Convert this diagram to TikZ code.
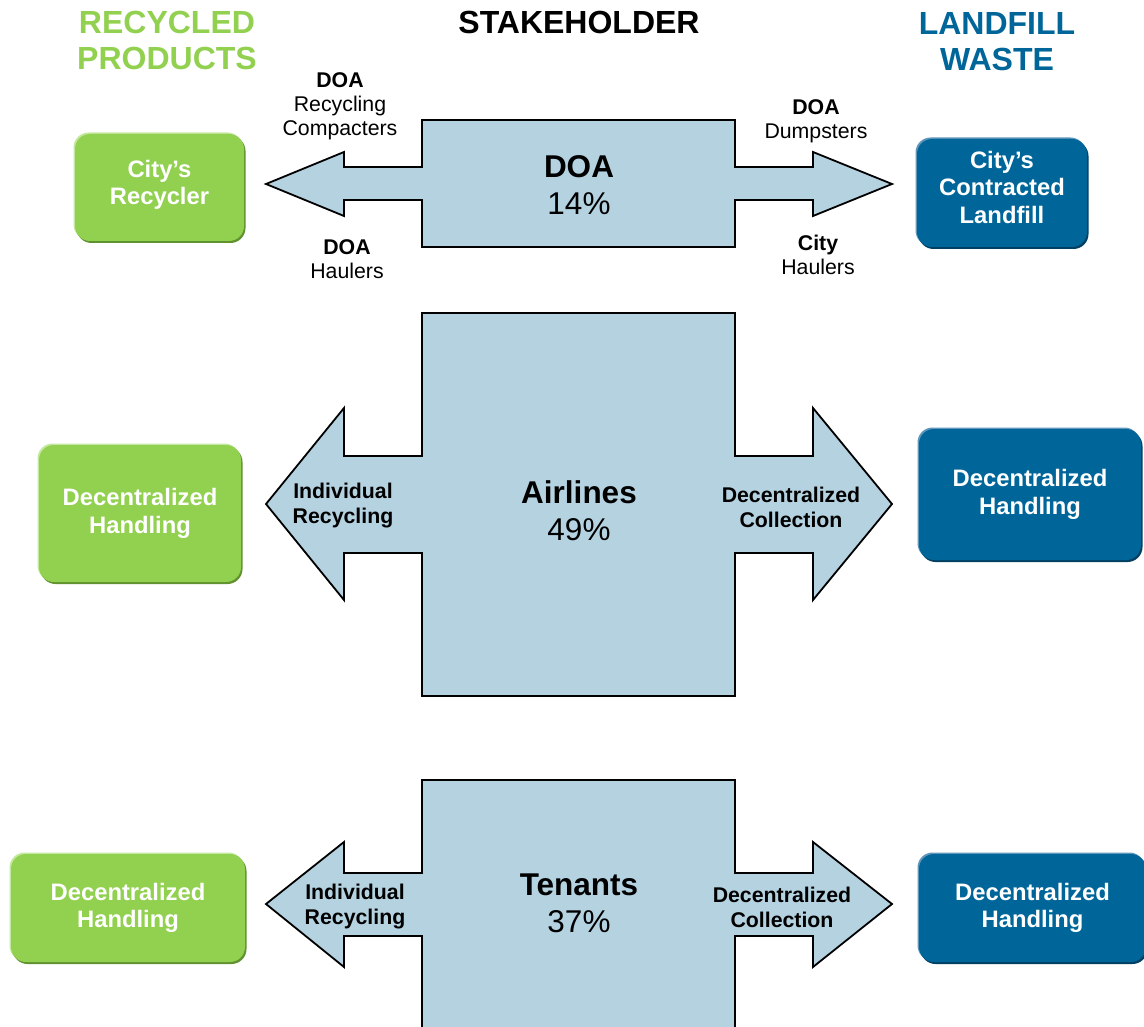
\documentclass[tikz,border=0pt]{standalone}
\usepackage{fontspec}
\setmainfont{Liberation Sans}
\usetikzlibrary{shadows}
\definecolor{recyclegreen}{RGB}{146,208,80}
\definecolor{recyclegreendark}{RGB}{96,146,48}
\definecolor{recyclegreenlight}{RGB}{196,232,160}
\definecolor{landfillblue}{RGB}{0,102,153}
\definecolor{landfillbluedark}{RGB}{0,64,98}
\definecolor{landfillbluelight}{RGB}{96,150,186}
\definecolor{stakeblue}{RGB}{181,210,225}
\tikzset{
  stake/.style={draw=black, fill=stakeblue, line width=1.8pt, line join=miter},
  heading/.style={font=\bfseries\fontsize{32}{36}\selectfont, align=center},
  flowlabel/.style={font=\fontsize{21.3}{24}\selectfont, align=center},
  arrowlabel/.style={font=\bfseries\fontsize{21.3}{25}\selectfont, align=center},
  share/.style={font=\fontsize{31.5}{37}\selectfont, align=center},
  outbox/.style={rounded corners=15pt, inner sep=0pt, align=center, text=white,
    font=\bfseries\fontsize{23.8}{27.5}\selectfont},
  greenbox/.style={outbox, fill=recyclegreen,
    general shadow={fill=recyclegreenlight, shadow xshift=-1.5pt, shadow yshift=1.5pt},
    general shadow={fill=recyclegreendark, shadow xshift=1.5pt, shadow yshift=-2pt}},
  bluebox/.style={outbox, fill=landfillblue,
    general shadow={fill=landfillbluelight, shadow xshift=-1.5pt, shadow yshift=1.5pt},
    general shadow={fill=landfillbluedark, shadow xshift=1.5pt, shadow yshift=-2pt}}
}
\begin{document}
\begin{tikzpicture}[x=1pt, y=-1pt]
  \useasboundingbox (0,0) rectangle (1144,1027);

  % column headings
  \node[heading, text=recyclegreen] (hrecycled) at (167,40) {RECYCLED\\PRODUCTS};
  \node[heading] (hstake) at (579,22) {STAKEHOLDER};
  \node[heading, text=landfillblue] (hlandfill) at (997,42) {LANDFILL\\WASTE};

  % DOA
  \draw[stake] (422,120) -- (735,120) -- (735,167) -- (813,167) -- (813,152)
    -- (892,184) -- (813,216) -- (813,200) -- (735,200) -- (735,247)
    -- (422,247) -- (422,200) -- (344,200) -- (344,216) -- (266,184)
    -- (344,152) -- (344,167) -- (422,167) -- cycle;
  \node[share] (doa) at (579,185) {\textbf{DOA}\\14\%};
  \node[flowlabel] (doacompact) at (340,106) {\textbf{DOA}\\Recycling\\Compacters};
  \node[flowlabel] (doahaul) at (347,259) {\textbf{DOA}\\Haulers};
  \node[flowlabel] (doadump) at (816,121) {\textbf{DOA}\\Dumpsters};
  \node[flowlabel] (cityhaul) at (818,255) {\textbf{City}\\Haulers};
  \node[greenbox, minimum width=169pt, minimum height=107pt] (recycler)
    at (159.5,187.5) {City’s\\Recycler\\[-17.5pt]};
  \node[bluebox, minimum width=170pt, minimum height=108pt] (landfill)
    at (1002,193) {City’s\\Contracted\\Landfill\\[-15.5pt]};

  % Airlines
  \draw[stake] (422,313) -- (735,313) -- (735,456) -- (813,456) -- (813,408)
    -- (892,504) -- (813,600) -- (813,553) -- (735,553) -- (735,696)
    -- (422,696) -- (422,553) -- (344,553) -- (344,600) -- (266,504)
    -- (344,408) -- (344,456) -- (422,456) -- cycle;
  \node[share] (airlines) at (579,511) {\textbf{Airlines}\\49\%};
  \node[arrowlabel] (airrecyc) at (343,505.5) {Individual\\Recycling};
  \node[arrowlabel] (aircollect) at (791,507.5) {Decentralized\\Collection};
  \node[greenbox, minimum width=202pt, minimum height=137pt] (airgreen)
    at (140,513.5) {Decentralized\\Handling};
  \node[bluebox, minimum width=222pt, minimum height=131pt] (airblue)
    at (1030,494.5) {Decentralized\\Handling};

  % Tenants
  \draw[stake] (422,780) -- (735,780) -- (735,873) -- (813,873) -- (813,842)
    -- (892,904) -- (813,967) -- (813,936) -- (735,936) -- (735,1034)
    -- (422,1034) -- (422,936) -- (344,936) -- (344,967) -- (266,904)
    -- (344,842) -- (344,873) -- (422,873) -- cycle;
  \node[share] (tenants) at (579,903.5) {\textbf{Tenants}\\37\%};
  \node[arrowlabel] (tenrecyc) at (355,907) {Individual\\Recycling};
  \node[arrowlabel] (tencollect) at (782,907) {Decentralized\\Collection};
  \node[greenbox, minimum width=234pt, minimum height=108pt] (tengreen)
    at (128,908) {Decentralized\\Handling};
  \node[bluebox, minimum width=227pt, minimum height=108pt] (tenblue)
    at (1032.5,908) {Decentralized\\Handling};
\end{tikzpicture}
\end{document}
